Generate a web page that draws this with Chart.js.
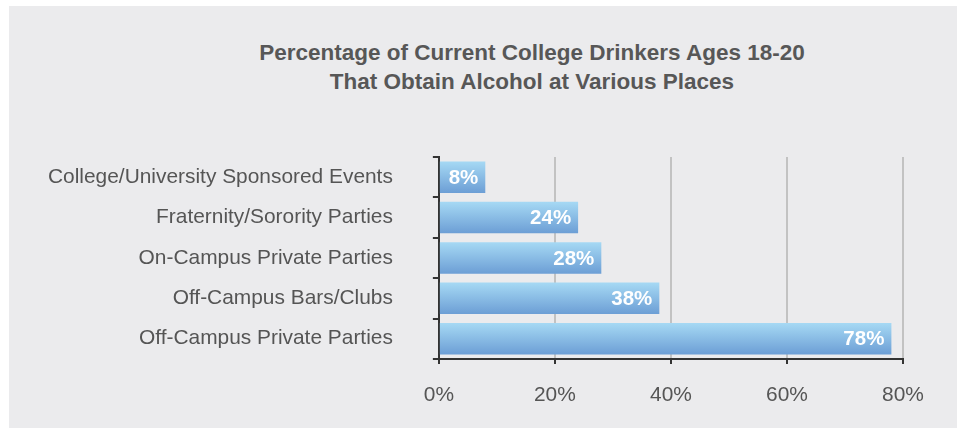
<!DOCTYPE html>
<html>
<head>
<meta charset="utf-8">
<script src="https://cdn.jsdelivr.net/npm/chart.js@4.4.0/dist/chart.umd.min.js"></script>
<style>
  html, body { margin: 0; padding: 0; background: #fff; }
  .wrap { position: relative; width: 958px; height: 428px; overflow: hidden; }
  .frame { position: absolute; left: 9px; top: 6px; width: 948px; height: 422px; background: #ebebed; }
  .title {
    position: absolute; left: 0; top: 38px; width: 958px; box-sizing: border-box; padding-left: 106px;
    text-align: center; font: bold 22.5px "Liberation Sans", Arial, sans-serif; line-height: 29px; color: #575757;
  }
  canvas { position: absolute; left: 0; top: 0; }
</style>
</head>
<body>
<div class="wrap">
  <div class="frame"></div>
  <div class="title">Percentage of Current College Drinkers Ages 18-20<br>That Obtain Alcohol at Various Places</div>
  <canvas id="chart" width="958" height="428"></canvas>
</div>
<script>
const categories = [
  'College/University Sponsored Events',
  'Fraternity/Sorority Parties',
  'On-Campus Private Parties',
  'Off-Campus Bars/Clubs',
  'Off-Campus Private Parties'
];
const percentages = [8, 24, 28, 38, 78];
const xTicks = [0, 20, 40, 60, 80];

const font = "'Liberation Sans', Arial, sans-serif";
const barPct = 0.78;

// vertical gradient on each bar, light on top
function barFill(c) {
  const chart = c.chart;
  const y = chart.scales.y;
  if (!chart.chartArea || !y) return '#8bbbe5';
  const mid = y.getPixelForValue(c.dataIndex);
  const half = (y.height / categories.length) * barPct / 2;
  const g = chart.ctx.createLinearGradient(0, mid - half, 0, mid + half);
  g.addColorStop(0, '#a6d9f4');
  g.addColorStop(1, '#6c9ed5');
  return g;
}

// white value labels inside the bar end
const valueLabels = {
  id: 'valueLabels',
  afterDatasetsDraw(chart) {
    const ctx = chart.ctx;
    const data = chart.data.datasets[0].data;
    ctx.save();
    ctx.font = 'bold 20.5px ' + font;
    ctx.fillStyle = '#ffffff';
    ctx.textAlign = 'right';
    ctx.textBaseline = 'middle';
    chart.getDatasetMeta(0).data.forEach((el, i) => {
      ctx.fillText(data[i] + '%', el.x - 7, el.y + 1);
    });
    ctx.restore();
  }
};

new Chart(document.getElementById('chart'), {
  type: 'bar',
  data: {
    labels: categories,
    datasets: [{
      data: percentages,
      backgroundColor: barFill,
      borderWidth: 0,
      categoryPercentage: 1,
      barPercentage: barPct
    }]
  },
  options: {
    indexAxis: 'y',
    responsive: false,
    animation: false,
    layout: { padding: { top: 157, bottom: 1, left: 8, right: 55 } },
    plugins: {
      legend: { display: false },
      tooltip: { enabled: false }
    },
    scales: {
      x: {
        min: xTicks[0],
        max: xTicks[xTicks.length - 1],
        afterBuildTicks: scale => { scale.ticks = xTicks.map(v => ({ value: v })); },
        ticks: {
          callback: v => v + '%',
          color: '#555555',
          font: { family: font, size: 20.9 },
          padding: 19
        },
        grid: {
          color: '#c2c2c2',
          lineWidth: 2,
          tickLength: 5,
          tickColor: '#333333'
        },
        border: { color: '#333333', width: 2 }
      },
      y: {
        ticks: {
          color: '#555555',
          font: { family: font, size: 20.9 },
          padding: 40
        },
        grid: {
          offset: true,
          drawOnChartArea: false,
          tickLength: 6,
          lineWidth: 2,
          color: '#333333'
        },
        border: { color: '#333333', width: 2 }
      }
    }
  },
  plugins: [valueLabels]
});
</script>
</body>
</html>
